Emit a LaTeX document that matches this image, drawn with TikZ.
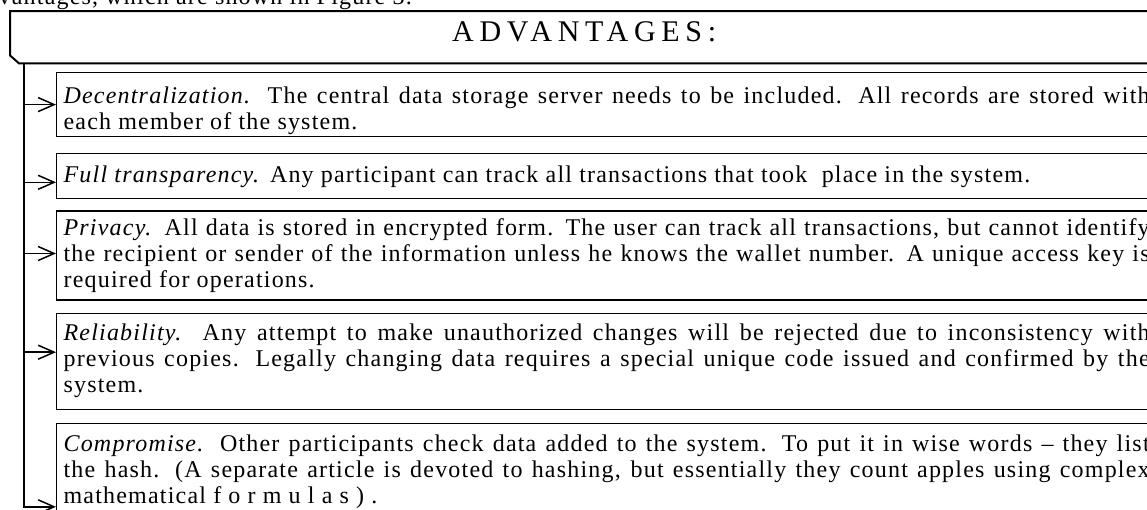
\documentclass[tikz,border=0pt]{standalone}
\usepackage{fontspec}
\setmainfont{Liberation Serif}
\usetikzlibrary{calc,positioning,arrows.meta}

\newcommand{\textebox}{\fontsize{24}{26}\selectfont\addfontfeature{LetterSpace=5}\hyphenpenalty=10000\relax}

\tikzset{
  avantage/.style={draw, line width=1.2pt, text width=1086pt, align=justify,
    inner xsep=7pt, inner ysep=0pt, font=\textebox},
  trait/.style={line width=1.5pt},
}

\begin{document}
\begin{tikzpicture}[x=1pt,y=-1pt,>={Straight Barb[length=16pt,width=14pt]}]

	\useasboundingbox (0,0) rectangle (1147,509);
	\clip (0,0) rectangle (1147,509);

	%Texte au dessus
	\node[anchor=base east, inner sep=0pt, font=\textebox] (phrase) at (412,4) {advantages, which are shown in Figure 3.};

	%Titre
	\node[anchor=north west, minimum width=1148pt, minimum height=52pt, inner sep=0pt] (titre) at (10,11) {};
	\node[font=\fontsize{30}{34}\selectfont\addfontfeature{LetterSpace=19}] (titretexte) at ($(titre.center)+(0,-5)$) {ADVANTAGES:};
	\draw[line width=2pt] (titre.north east) -- (titre.north west) -- ([yshift=8pt]titre.south west) -- ([xshift=9pt]titre.south west) -- (titre.south east);

	%Boites
	\node[avantage, anchor=north west, minimum height=64pt] (decentr) at (56,72) {\rule{0pt}{29pt}\textit{Decentralization.} The central data storage server needs to be included. All records are stored with\linebreak each member of the system.};
	\node[avantage, minimum height=45pt, below=16pt of decentr] (transp) {\textit{Full transparency.} Any participant can track all transactions that took\ \ place in the system.};
	\node[avantage, minimum height=89pt, below=11pt of transp] (confid) {\textit{Privacy.} All data is stored in encrypted form. The user can track all transactions, but cannot identify\linebreak the recipient or sender of the information unless he knows the wallet number. A unique access key is\linebreak required for operations.};
	\node[avantage, minimum height=96pt, below=12pt of confid] (fiab) {\textit{Reliability.} Any attempt to make unauthorized changes will be rejected due to inconsistency with\linebreak previous copies. Legally changing data requires a special unique code issued and confirmed by the\linebreak system.};
	\node[avantage, minimum height=96pt, below=13pt of fiab] (compro) {\textit{Compromise.} Other participants check data added to the system. To put it in wise words -- they list\linebreak the hash. (A separate article is devoted to hashing, but essentially they count apples using complex\linebreak mathematical {\addfontfeature{LetterSpace=30}formulas).}};

	%Trait vertical
	\coordinate (haut) at ($(titre.south west)+(14,0)$);
	\coordinate (f1) at (decentr.west);
	\coordinate (f2) at ($(transp.west)+(0,6)$);
	\coordinate (f3) at ($(confid.west)+(0,-2)$);
	\coordinate (f4) at ($(fiab.west)+(0,-9)$);
	\coordinate (f5) at ($(compro.north west)+(0,84)$);

	%Fleches
	\draw[trait,->] (haut) |- (f5);
	\draw[trait,->] (haut |- f1) -- (f1);
	\draw[trait,->] (haut |- f2) -- (f2);
	\draw[trait,->] (haut |- f3) -- (f3);
	\draw[trait,->] (haut |- f4) -- (f4);

\end{tikzpicture}
\end{document}
